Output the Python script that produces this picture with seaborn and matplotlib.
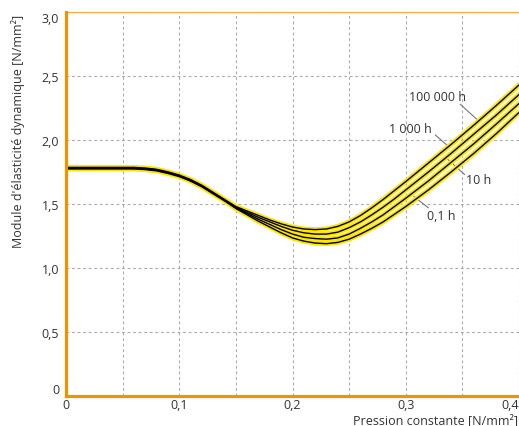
import matplotlib
matplotlib.use("Agg")
import matplotlib.pyplot as plt
import seaborn as sns
import pandas as pd
from matplotlib.ticker import MultipleLocator

# ---- data ----
pressure = [0, 0.02, 0.04, 0.06, 0.07, 0.08, 0.09, 0.10, 0.11, 0.12, 0.13, 0.14,
            0.15, 0.16, 0.17, 0.18, 0.19, 0.20, 0.21, 0.22, 0.23, 0.24, 0.25, 0.26,
            0.27, 0.28, 0.29, 0.30, 0.32, 0.34, 0.36, 0.38, 0.40]

mod_100000h = [1.786, 1.786, 1.786, 1.786, 1.781, 1.771, 1.751, 1.726, 1.691, 1.646, 1.591, 1.535,
               1.480, 1.445, 1.410, 1.375, 1.345, 1.320, 1.305, 1.300, 1.305, 1.325, 1.360, 1.410,
               1.470, 1.535, 1.605, 1.675, 1.820, 1.965, 2.115, 2.270, 2.430]
mod_1000h = [1.782, 1.782, 1.782, 1.782, 1.777, 1.767, 1.747, 1.722, 1.687, 1.642, 1.587, 1.532,
             1.475, 1.435, 1.395, 1.360, 1.325, 1.295, 1.275, 1.265, 1.265, 1.280, 1.315, 1.360,
             1.415, 1.475, 1.540, 1.610, 1.750, 1.895, 2.045, 2.195, 2.355]
mod_10h = [1.778, 1.778, 1.778, 1.778, 1.773, 1.763, 1.743, 1.718, 1.683, 1.638, 1.583, 1.528,
           1.470, 1.425, 1.380, 1.340, 1.300, 1.265, 1.240, 1.230, 1.225, 1.235, 1.265, 1.310,
           1.360, 1.415, 1.480, 1.545, 1.680, 1.825, 1.970, 2.125, 2.285]
mod_01h = [1.774, 1.774, 1.774, 1.774, 1.769, 1.759, 1.739, 1.714, 1.679, 1.634, 1.579, 1.524,
           1.465, 1.415, 1.365, 1.320, 1.275, 1.235, 1.210, 1.195, 1.190, 1.200, 1.225, 1.265,
           1.310, 1.360, 1.420, 1.480, 1.610, 1.750, 1.895, 2.050, 2.215]

series_names = ["100 000 h", "1 000 h", "10 h", "0,1 h"]
series_values = [mod_100000h, mod_1000h, mod_10h, mod_01h]

x_ticks = [0, 0.1, 0.2, 0.3, 0.4]
x_tick_labels = ["0", "0,1", "0,2", "0,3", "0,4"]
y_ticks = [0, 0.5, 1.0, 1.5, 2.0, 2.5, 3.0]
y_tick_labels = ["0", "0,5", "1,0", "1,5", "2,0", "2,5", "3,0"]

# label positions (text) and leader lines (start, end) in data coords
label_text_pos = [(0.328, 2.34), (0.304, 2.09), (0.364, 1.69), (0.331, 1.41)]
leader_lines = [((0.348, 2.28), (0.363, 2.16)),
                ((0.326, 2.04), (0.339, 1.94)),
                ((0.352, 1.73), (0.337, 1.85)),
                ((0.320, 1.47), (0.307, 1.56))]

df = pd.concat([pd.DataFrame({"Pression": pressure, "Module": v, "Durée": n})
                for n, v in zip(series_names, series_values)], ignore_index=True)

# ---- style ----
sns.set_style("white")
plt.rcParams["font.family"] = ["Open Sans", "DejaVu Sans"]

ORANGE = "#F39200"
YELLOW = "#FFE600"
TXT = "#333333"
FS = 9

fig = plt.figure(figsize=(5.19, 4.27), dpi=100)
ax = fig.add_axes([66 / 519, 30 / 427, (519 - 66) / 519, (397 - 13) / 427])

sns.lineplot(data=df, x="Pression", y="Module", hue="Durée", units="Durée", estimator=None,
             palette={n: YELLOW for n in series_names}, linewidth=3.6, legend=False, ax=ax,
             zorder=3)
sns.lineplot(data=df, x="Pression", y="Module", hue="Durée", units="Durée", estimator=None,
             palette={n: "black" for n in series_names}, linewidth=1.0, legend=False, ax=ax,
             zorder=4)

ax.set_xlim(0, 0.4)
ax.set_ylim(0, 3.0)

# grid
ax.set_xticks(x_ticks)
ax.xaxis.set_minor_locator(MultipleLocator(0.05))
ax.set_yticks(y_ticks)
ax.grid(True, which="both", axis="x", color="#aaaaaa", linestyle=(0, (2.5, 2.5)), linewidth=0.8, zorder=0)
ax.grid(True, which="major", axis="y", color="#aaaaaa", linestyle=(0, (2.5, 2.5)), linewidth=0.8, zorder=0)
ax.set_axisbelow(True)

ax.tick_params(which="both", length=0, labelsize=FS, labelcolor=TXT)
ax.tick_params(axis="x", pad=1.5)
ax.tick_params(axis="y", pad=5)
ax.set_xticklabels(x_tick_labels)
ax.set_yticklabels(y_tick_labels)
xl = ax.get_xticklabels()
xl[-1].set_ha("right")
yl = ax.get_yticklabels()
yl[0].set_va("bottom")
yl[-1].set_va("top")

for side in ["left", "bottom"]:
    ax.spines[side].set_color(ORANGE)
    ax.spines[side].set_linewidth(2.3)
    ax.spines[side].set_zorder(6)
ax.spines["top"].set_color("#F7B040")
ax.spines["top"].set_linewidth(0.9)
ax.spines["right"].set_visible(False)

ax.set_xlabel("")
ax.set_ylabel("")
fig.text(1 - 0.002, 1 - 421 / 427, "Pression constante [N/mm²]", ha="right", va="center",
         fontsize=FS, color=TXT)
fig.text(18 / 519, 1 - 131 / 427, "Module d'élasticité dynamique [N/mm²]", ha="center", va="center",
         rotation=90, fontsize=FS, color=TXT)

for name, (tx, ty), ((x0, y0), (x1, y1)) in zip(series_names, label_text_pos, leader_lines):
    ax.text(tx, ty, name, ha="center", va="center", fontsize=FS, color=TXT, zorder=5)
    ax.plot([x0, x1], [y0, y1], color="#777777", linewidth=0.8, zorder=2)

fig.savefig("out.png", dpi=100)
